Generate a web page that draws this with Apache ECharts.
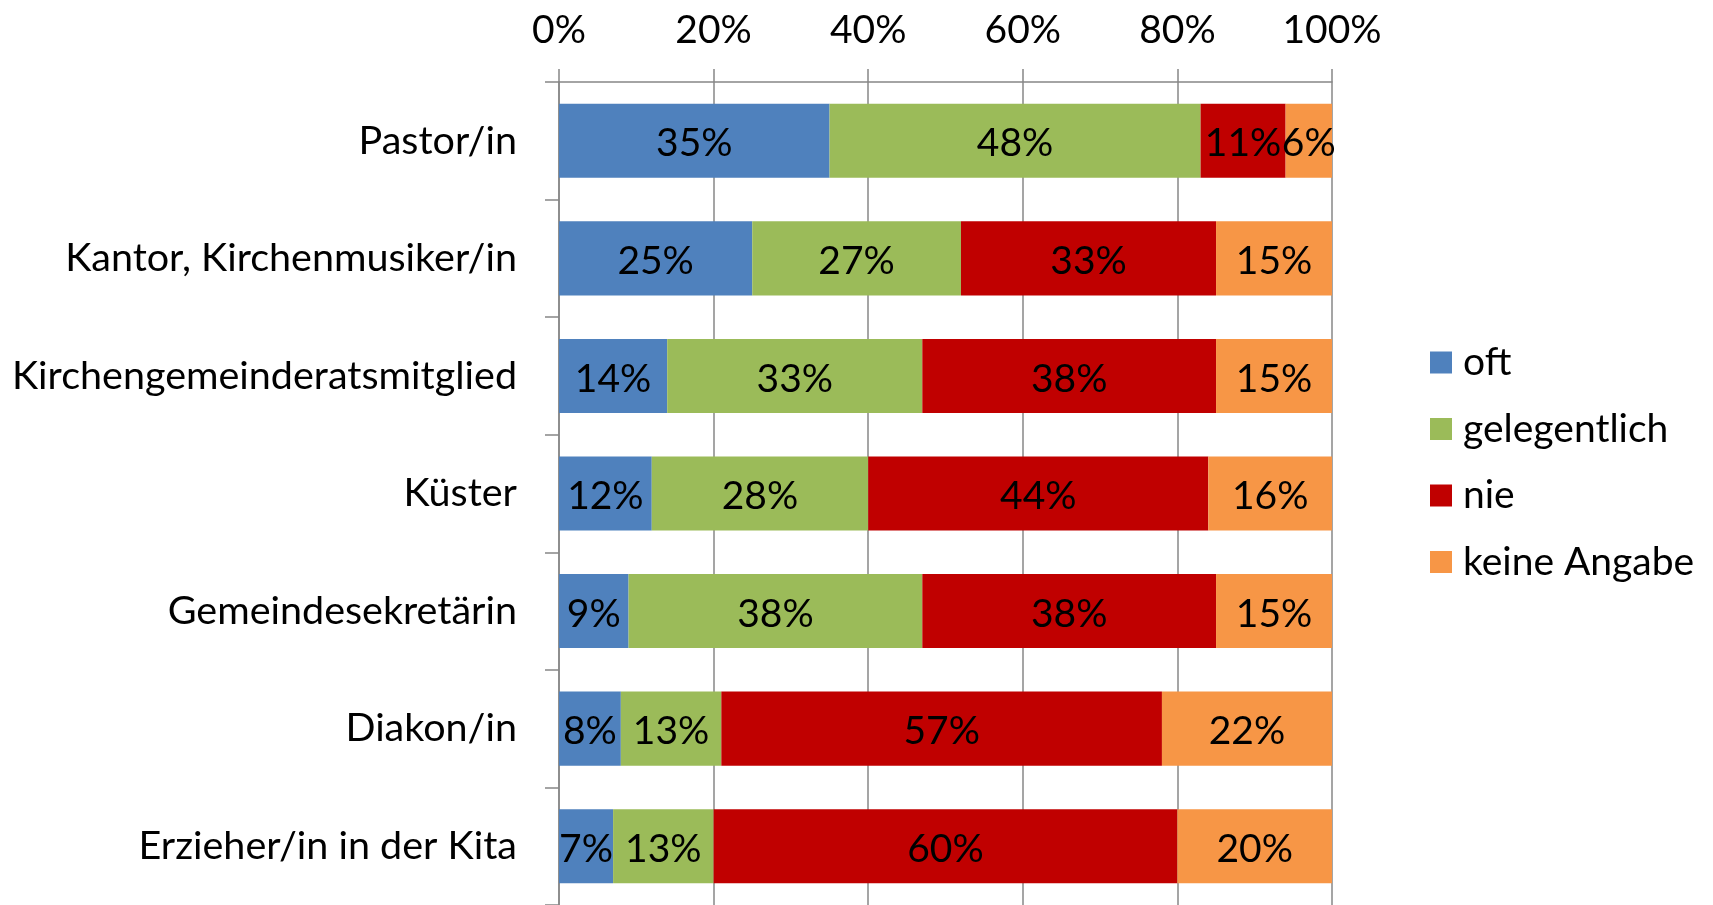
<!DOCTYPE html>
<html lang="de">
<head>
  <meta charset="UTF-8">
  <title>Kontakt</title>
  <script src="https://cdn.jsdelivr.net/npm/echarts@6/dist/echarts.min.js"></script>
</head>
<body style="margin:0">
  <div id="app" style="width: 1713px; height: 905px;"></div>
  <script>
    var categories = ['Pastor/in', 'Kantor, Kirchenmusiker/in', 'Kirchengemeinderatsmitglied', 'Küster', 'Gemeindesekretärin', 'Diakon/in', 'Erzieher/in in der Kita']
    var oft = [35, 25, 14, 12, 9, 8, 7]
    var gelegentlich = [48, 27, 33, 28, 38, 13, 13]
    var nie = [11, 33, 38, 44, 38, 57, 60]
    var keineAngabe = [6, 15, 15, 16, 15, 22, 20]

    var font = 'Lato, "Open Sans", sans-serif'
    var gray = '#878787'

    function serie(name, data, color) {
      return {
        name: name,
        type: 'bar',
        stack: 'all',
        barCategoryGap: '37%',
        data: data,
        itemStyle: { color: color },
        label: {
          show: true,
          position: 'inside',
          formatter: '{c}%',
          color: '#000',
          fontSize: 39,
          fontFamily: font,
          offset: [0, 3]
        }
      }
    }

    var mCharts = echarts.init(document.querySelector('#app'))
    var option = {
      animation: false,
      textStyle: { fontFamily: font },
      grid: { left: 559, right: 381, top: 82, bottom: 0 },
      legend: {
        orient: 'vertical',
        left: 1425,
        top: 338,
        icon: 'rect',
        itemWidth: 22,
        itemHeight: 22,
        itemGap: 27.5,
        textStyle: { fontSize: 39, color: '#000', fontFamily: font, padding: [0, 0, 0, 6] }
      },
      xAxis: {
        type: 'value',
        position: 'top',
        min: 0,
        max: 100,
        interval: 20,
        axisLine: { show: true, lineStyle: { color: gray, width: 1.5 } },
        axisTick: { show: true, length: 13, lineStyle: { color: gray, width: 1.5 } },
        splitLine: { show: true, lineStyle: { color: gray, width: 1.5 } },
        axisLabel: { formatter: '{value}%', fontSize: 39, color: '#000', margin: 32, fontFamily: font }
      },
      yAxis: {
        type: 'category',
        inverse: true,
        data: categories,
        axisLine: { show: true, lineStyle: { color: gray, width: 1.5 } },
        axisTick: { show: true, length: 14, lineStyle: { color: gray, width: 1.5 } },
        axisLabel: { fontSize: 39.5, color: '#000', margin: 42, fontFamily: font }
      },
      series: [
        serie('oft', oft, '#4F81BD'),
        serie('gelegentlich', gelegentlich, '#9BBB59'),
        serie('nie', nie, '#C00000'),
        serie('keine Angabe', keineAngabe, '#F79646')
      ]
    }
    mCharts.setOption(option)
  </script>
</body>
</html>
